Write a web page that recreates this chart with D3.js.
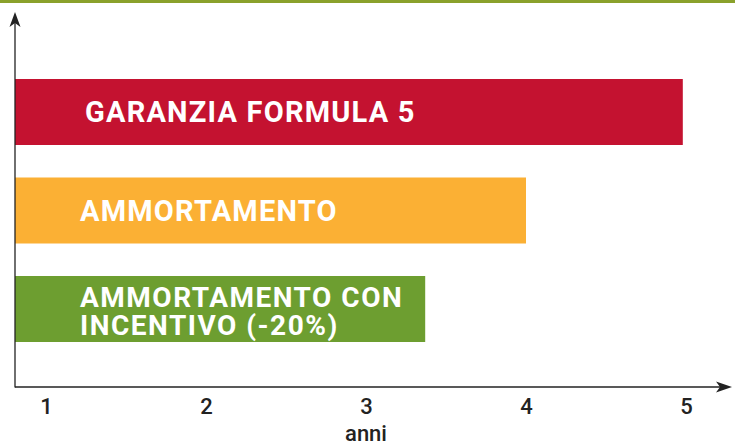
<!DOCTYPE html>
<html><head><meta charset="utf-8">
<script src="https://cdn.jsdelivr.net/npm/d3@7/dist/d3.min.js"></script>
<style>html,body{margin:0;padding:0;background:#fff;overflow:hidden}</style>
</head><body>
<script>
const categories = ["GARANZIA FORMULA 5", "AMMORTAMENTO", "AMMORTAMENTO CON INCENTIVO (-20%)"];
const labelLines = [["GARANZIA FORMULA 5"], ["AMMORTAMENTO"], ["AMMORTAMENTO CON", "INCENTIVO (-20%)"]];
const values = [4.98, 4.0, 3.37];
const tickValues = [1, 2, 3, 4, 5];
const tickLabels = ["1", "2", "3", "4", "5"];
const axisTitle = "anni";
const colors = ["#c41230", "#fbb034", "#6d9e30"];

const W = 735, H = 443;
const svg = d3.select("body").append("svg").attr("width", W).attr("height", H);

// top rule
svg.append("rect").attr("x", 0).attr("y", 0).attr("width", W).attr("height", 3).attr("fill", "#8aa12b");

const axisX0 = 15, axisY = 387;
const x = d3.scaleLinear().domain([1, 5]).range([46, 686]);
const y = d3.scaleBand().domain(categories).range([79, 342]).paddingInner(0.33).paddingOuter(0);

// bars
svg.selectAll("rect.bar").data(categories).enter().append("rect")
  .attr("class", "bar")
  .attr("x", axisX0)
  .attr("y", d => y(d))
  .attr("width", (d, i) => x(values[i]) - axisX0)
  .attr("height", y.bandwidth())
  .attr("fill", (d, i) => colors[i]);

// labels
const labelX = [85, 80, 80];
categories.forEach((c, i) => {
  const lines = labelLines[i];
  const cy = y(c) + y.bandwidth() / 2;
  const multi = lines.length > 1;
  const t = svg.append("text")
    .attr("fill", "#fff")
    .style("font-family", "Roboto, 'DejaVu Sans', sans-serif")
    .style("font-weight", "bold")
    .style("font-size", multi ? "28px" : "29px")
    .style("letter-spacing", multi ? "1.5px" : "1.2px");
  const base = multi ? cy - 2 : cy + 10;
  lines.forEach((ln, j) => {
    t.append("tspan").attr("x", labelX[i]).attr("y", base + j * 28).text(ln);
  });
});

// axes lines
const axisColor = "#222";
svg.append("line").attr("x1", axisX0).attr("x2", axisX0).attr("y1", 20).attr("y2", axisY + 0.5)
  .attr("stroke", axisColor).attr("stroke-width", 1.3);
svg.append("line").attr("x1", axisX0).attr("x2", 724).attr("y1", axisY).attr("y2", axisY)
  .attr("stroke", axisColor).attr("stroke-width", 1.3);
// arrowheads
svg.append("path").attr("d", `M${axisX0},12 L${axisX0 + 5.5},27 L${axisX0},23 L${axisX0 - 5.5},27 Z`).attr("fill", axisColor);
svg.append("path").attr("d", `M732,${axisY} L716,${axisY - 5.5} L720,${axisY} L716,${axisY + 5.5} Z`).attr("fill", axisColor);

// tick labels
const xAxis = d3.axisBottom(x).tickValues(tickValues).tickFormat((d, i) => tickLabels[i]).tickSize(0).tickPadding(0);
const gx = svg.append("g").attr("transform", `translate(0,${axisY})`).call(xAxis);
gx.select(".domain").remove();
gx.selectAll("text")
  .attr("dy", null)
  .attr("y", 27)
  .attr("fill", "#222")
  .style("font-family", "Roboto, 'DejaVu Sans', sans-serif")
  .style("font-weight", "500")
  .style("font-size", "22px");

svg.append("text").attr("x", x(3)).attr("y", 441).attr("text-anchor", "middle")
  .attr("fill", "#222")
  .style("font-family", "Roboto, 'DejaVu Sans', sans-serif")
  .style("font-weight", "500")
  .style("font-size", "22px")
  .text(axisTitle);
</script>
</body></html>
